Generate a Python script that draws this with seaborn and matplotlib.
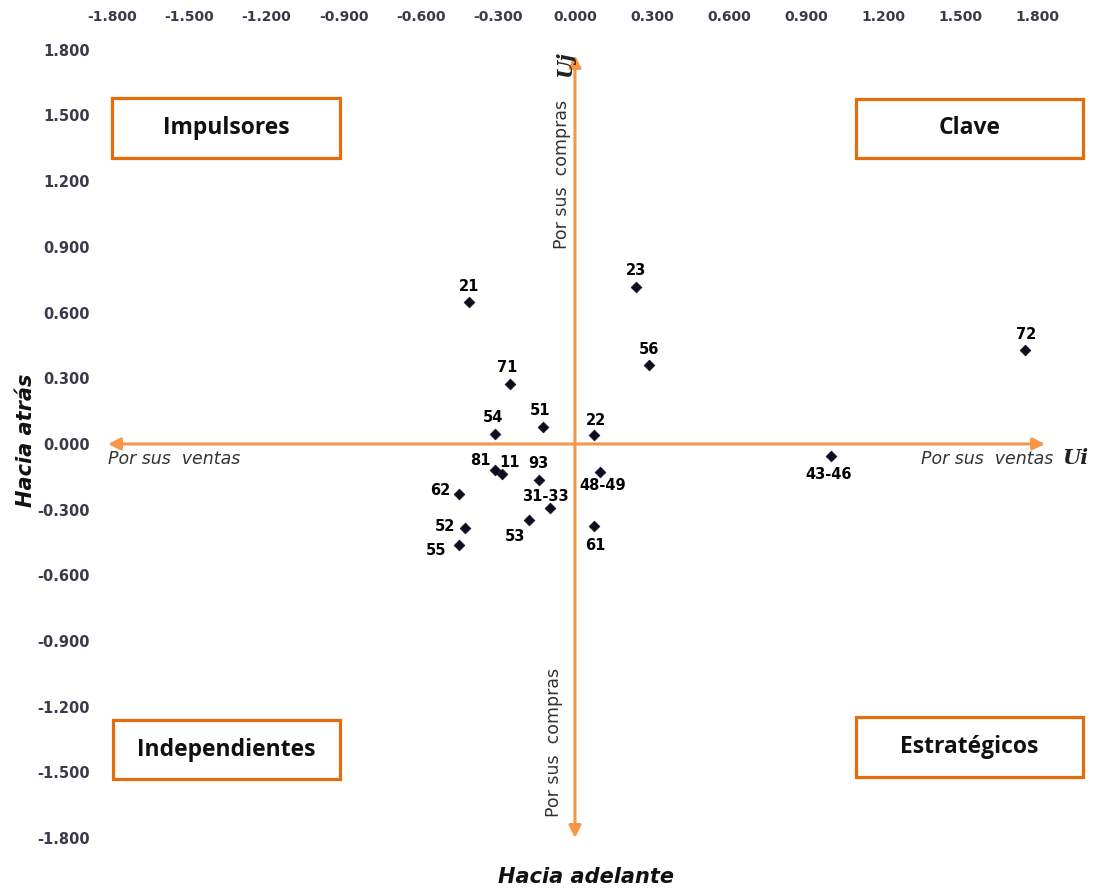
import matplotlib
matplotlib.use("Agg")
import matplotlib.pyplot as plt
from matplotlib.patches import Rectangle
import seaborn as sns
import pandas as pd

# sector codes and their coordinates (Ui = forward, Uj = backward linkages)
sectors = ["21", "23", "56", "72", "71", "54", "51", "22", "81", "11",
           "93", "48-49", "62", "31-33", "53", "52", "55", "61", "43-46"]
ui = [-0.412, 0.237, 0.288, 1.751, -0.253, -0.311, -0.125, 0.074, -0.311, -0.284,
      -0.140, 0.097, -0.451, -0.097, -0.179, -0.428, -0.451, 0.074, 0.996]
uj = [0.648, 0.717, 0.361, 0.429, 0.274, 0.046, 0.078, 0.041, -0.119, -0.137,
      -0.164, -0.128, -0.228, -0.292, -0.347, -0.384, -0.461, -0.374, -0.055]

ticks = [-1.8, -1.5, -1.2, -0.9, -0.6, -0.3, 0.0, 0.3, 0.6, 0.9, 1.2, 1.5, 1.8]
quadrants = ["Impulsores", "Clave", "Independientes", "Estratégicos"]

# label offsets in pixels (dx, dy) so they sit like in the original
label_off = {"21": (0, 16), "23": (0, 16), "56": (0, 15), "72": (1, 16), "71": (-3, 16),
             "54": (-2, 16), "51": (-3, 16), "22": (2, 14), "81": (-15, 10), "11": (8, 11),
             "93": (-1, 16), "48-49": (3, -14), "62": (-19, 3), "31-33": (-5, 11),
             "53": (-14, -17), "52": (-20, 2), "55": (-23, -6), "61": (1, -20),
             "43-46": (-2, -18)}

df = pd.DataFrame({"sector": sectors, "Ui": ui, "Uj": uj})

sns.set_style("white")
plt.rcParams["font.family"] = ["DejaVu Sans"]

W, H = 1105, 890
fig = plt.figure(figsize=(W / 100, H / 100), dpi=100)
ax = fig.add_axes([0.0854, 0.02135, 0.9001, 0.9424])

orange = "#F79646"
box_orange = "#E46C0A"
tick_col = "#3a3a4a"

# axes arrows
ax.annotate("", xy=(1.829, 0), xytext=(-1.817, 0),
            arrowprops=dict(arrowstyle="<|-|>", color=orange, lw=2.2,
                            mutation_scale=18, shrinkA=0, shrinkB=0), zorder=1)
ax.annotate("", xy=(0, 1.776), xytext=(0, -1.799),
            arrowprops=dict(arrowstyle="<|-|>", color=orange, lw=2.2,
                            mutation_scale=18, shrinkA=0, shrinkB=0), zorder=1)

sns.scatterplot(data=df, x="Ui", y="Uj", marker="D", s=30, color="#0d0d1f",
                edgecolor="#0d0d1f", linewidth=0.5, ax=ax, zorder=3, legend=False)

for s, x, y in zip(sectors, ui, uj):
    dx, dy = label_off[s]
    ax.annotate(s, (x, y), xytext=(dx, dy), textcoords="offset pixels",
                ha="center", va="center", fontsize=10.5, fontweight="bold", color="black")

ax.set_xlim(-1.87, 2.0)
ax.set_ylim(-1.95, 1.88)
ax.set_xticks(ticks)
ax.set_yticks(ticks)
ax.set_xticklabels([f"{t:.3f}" for t in ticks])
ax.set_yticklabels([f"{t:.3f}" for t in ticks])
ax.xaxis.tick_top()
ax.tick_params(axis="x", length=0, pad=6, labelsize=10, labelcolor=tick_col)
ax.tick_params(axis="y", length=0, pad=3, labelsize=10.5, labelcolor=tick_col)
for lab in ax.get_xticklabels() + ax.get_yticklabels():
    lab.set_fontweight("bold")
for sp in ax.spines.values():
    sp.set_visible(False)
ax.set_xlabel("")
ax.set_ylabel("")


def px(x, y):
    return x / W, 1 - y / H


# quadrant boxes (pixel rectangles)
boxes = [(112, 98, 340, 158), (856, 99, 1083, 158), (113, 720, 340, 779), (856, 717, 1083, 777)]
for name, (x0, y0, x1, y1) in zip(quadrants, boxes):
    fx0, fy1 = px(x0, y0)
    fx1, fy0 = px(x1, y1)
    fig.patches.append(Rectangle((fx0, fy0), fx1 - fx0, fy1 - fy0, transform=fig.transFigure,
                                 facecolor="white", edgecolor=box_orange, lw=2.3, zorder=5))
    fig.text((fx0 + fx1) / 2, (fy0 + fy1) / 2, name, ha="center", va="center",
             fontsize=16.5, fontweight="bold", family="Open Sans", color="#111111", zorder=6)

# axis descriptions
grey = "#333333"
fig.text(*px(108, 459), "Por sus  ventas", ha="left", va="center", fontsize=12.5,
         style="italic", color=grey)
fig.text(*px(1053, 459), "Por sus  ventas", ha="right", va="center", fontsize=12.5,
         style="italic", color=grey)
fig.text(*px(1075, 458), "Ui", ha="center", va="center", fontsize=15,
         style="italic", fontweight="bold", family="DejaVu Serif", color="#222222")
fig.text(*px(562, 174), "Por sus  compras", ha="center", va="center", fontsize=12.5,
         rotation=90, color=grey)
fig.text(*px(554, 742), "Por sus  compras", ha="center", va="center", fontsize=12.5,
         rotation=90, color=grey)
fig.text(*px(565, 64), "Uj", ha="center", va="center", fontsize=15, rotation=90,
         style="italic", fontweight="bold", family="DejaVu Serif", color="#222222")

fig.text(*px(26, 440), "Hacia atrás", ha="center", va="center", fontsize=15,
         rotation=90, style="italic", fontweight="bold", color="#111111")
fig.text(*px(586, 877), "Hacia adelante", ha="center", va="center", fontsize=15,
         style="italic", fontweight="bold", color="#111111")

fig.savefig("out.png", dpi=100, facecolor="white")
